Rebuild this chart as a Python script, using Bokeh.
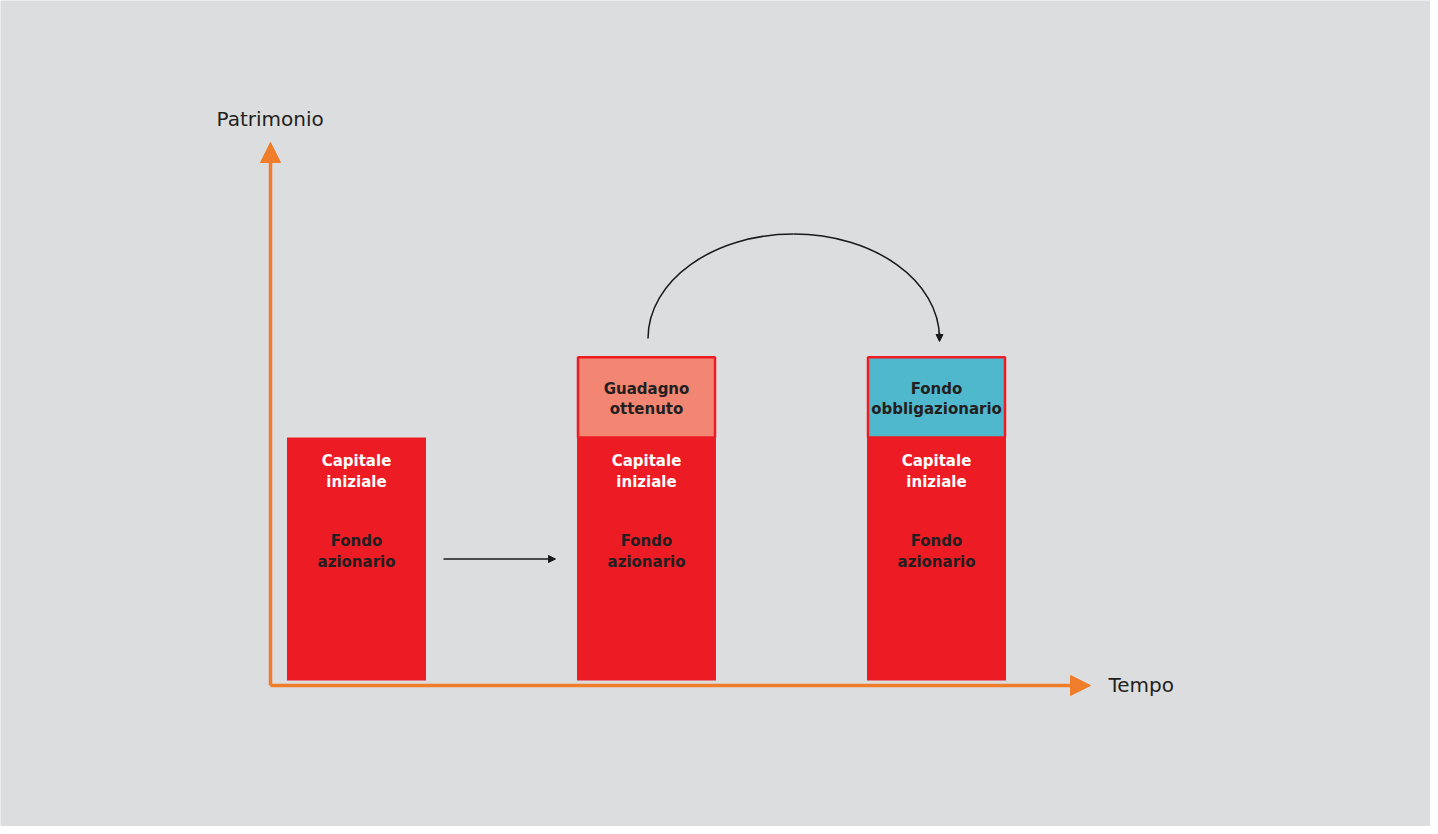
from bokeh.plotting import figure
from bokeh.models import Range1d, ColumnDataSource, Arrow, NormalHead
from bokeh.core.properties import value
from bokeh.embed import file_html
from bokeh.resources import INLINE

# ---- data ----
periods = [0, 1, 2]                       # time steps
capitale = [100, 100, 100]                # capitale iniziale (fondo azionario)
extra_labels = ["", "Guadagno\nottenuto", "Fondo\nobbligazionario"]
extra_values = [0, 33, 33]
extra_colors = ["#DCDDDF", "#F28672", "#50B8CD"]
base_top_label = "Capitale\niniziale"
base_mid_label = "Fondo\nazionario"
y_axis_label = "Patrimonio"
x_axis_label = "Tempo"

W, H = 1430, 826
PX_X = 290.0     # pixels per time unit
X0 = 364.0       # image x of t=0
PX_Y = 2.43      # pixels per value unit
Y0 = 688.0       # image y of value 0

def ix(img_x):
    return (img_x - X0) / PX_X

def iy(img_y):
    return (Y0 - img_y) / PX_Y

BG = "#DCDDDF"
RED = "#ED1C24"
ORANGE = "#F07D2A"
DARK = "#231F20"
FONT = "DejaVu Sans"
LH = 1.12

p = figure(width=W, height=H, output_backend="svg", toolbar_location=None,
           x_range=Range1d(ix(8), ix(8 + W)), y_range=Range1d(iy(8 + H), iy(8)),
           min_border=0, outline_line_color=None)
p.axis.visible = False
p.grid.visible = False
p.background_fill_color = BG
p.border_fill_color = BG

bw = 139 / PX_X

# base bars
src = ColumnDataSource(dict(x=periods, top=capitale))
p.vbar(x="x", top="top", bottom=0, width=bw, source=src, fill_color=RED, line_color=None)

# extra boxes
idx = [i for i in range(3) if extra_values[i] > 0]
ex_x = [periods[i] for i in idx]
ex_b = [capitale[i] for i in idx]
ex_v = [extra_values[i] for i in idx]
ex_t = [b + v for b, v in zip(ex_b, ex_v)]
ex_c = [extra_colors[i] for i in idx]
ex_l = [extra_labels[i] for i in idx]
p.vbar(x=ex_x, bottom=ex_b, top=ex_t, width=bw - 2 / PX_X, fill_color=ex_c,
       line_color=RED, line_width=2.5)

# labels in bars
p.text(x=periods, y=[c * 0.86 for c in capitale],
       text=[base_top_label] * 3, text_font=value(FONT), text_font_style="bold",
       text_font_size="15px", text_color="white", text_align="center",
       text_baseline="middle", text_line_height=LH)
p.text(x=periods, y=[c * 0.531 for c in capitale],
       text=[base_mid_label] * 3, text_font=value(FONT), text_font_style="bold",
       text_font_size="15px", text_color=DARK, text_align="center",
       text_baseline="middle", text_line_height=LH)
p.text(x=ex_x, y=[b + v / 2 - 0.8 for b, v in zip(ex_b, ex_v)],
       text=ex_l, text_font=value(FONT), text_font_style="bold",
       text_font_size="15px", text_color=DARK, text_align="center",
       text_baseline="middle", text_line_height=LH)

# axes (orange arrows)
ax_x = ix(278)
ax_y = iy(693)
p.add_layout(Arrow(end=NormalHead(size=20, fill_color=ORANGE, line_color=ORANGE),
                   x_start=ax_x, y_start=ax_y, x_end=ax_x, y_end=iy(150),
                   line_color=ORANGE, line_width=3.5))
p.add_layout(Arrow(end=NormalHead(size=20, fill_color=ORANGE, line_color=ORANGE),
                   x_start=ax_x, y_start=ax_y, x_end=ix(1098), y_end=ax_y,
                   line_color=ORANGE, line_width=3.5))

p.text(x=[ix(224)], y=[iy(126)], text=[y_axis_label], text_font=value(FONT),
       text_font_size="20px", text_color=DARK, text_baseline="middle")
p.text(x=[ix(1116)], y=[iy(692)], text=[x_axis_label], text_font=value(FONT),
       text_font_size="20px", text_color=DARK, text_baseline="middle")

# straight arrow between bar 1 and bar 2
p.add_layout(Arrow(end=NormalHead(size=7, fill_color="#1a1a1a", line_color="#1a1a1a"),
                   x_start=ix(451), y_start=iy(566.5), x_end=ix(563), y_end=iy(566.5),
                   line_color="#1a1a1a", line_width=1.4))

# curved arrow from bar 2 to bar 3 (half ellipse, two cubic beziers)
k = 0.5523
cx, top, base = 801.0, 241.5, 346.0
rx_l, rx_r = cx - 655.5, 947.0 - cx
ry = base - top
p.bezier(x0=[ix(655.5), ix(cx)], y0=[iy(base), iy(top)],
         x1=[ix(cx), ix(947.0)], y1=[iy(top), iy(base)],
         cx0=[ix(655.5), ix(cx + k * rx_r)], cy0=[iy(base - k * ry), iy(top)],
         cx1=[ix(cx - k * rx_l), ix(947.0)], cy1=[iy(top), iy(base - k * ry)],
         line_color="#1a1a1a", line_width=1.5)
p.add_layout(Arrow(end=NormalHead(size=7, fill_color="#1a1a1a", line_color="#1a1a1a"),
                   x_start=ix(947), y_start=iy(340), x_end=ix(947), y_end=iy(349),
                   line_color="#1a1a1a", line_width=1.5))

open("out.html", "w").write(file_html(p, INLINE))
